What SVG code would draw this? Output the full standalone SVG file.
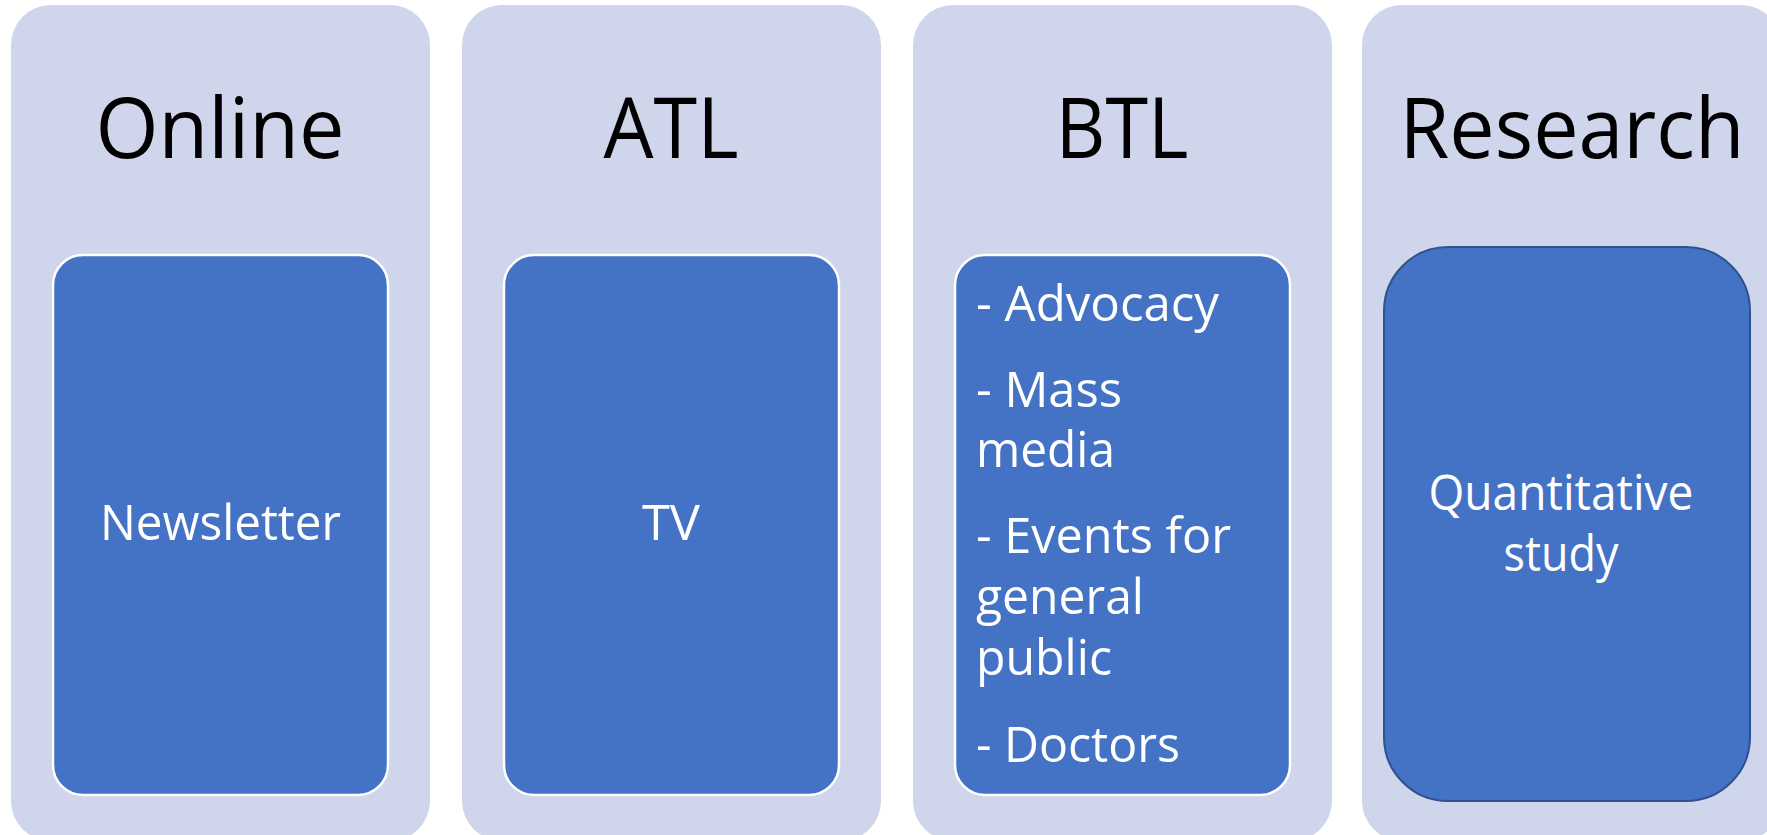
<svg xmlns="http://www.w3.org/2000/svg" width="1767" height="835" viewBox="0 0 1767 835">
<style>
.outer{fill:#CFD5EA;}
.inner{fill:#4472C4;stroke:#FFFFFF;stroke-width:2.5;}
.inner2{fill:#4472C4;stroke:#2F528F;stroke-width:2;}
.hdr{font-family:"Open Sans","Lato",sans-serif;font-size:84px;fill:#000000;text-anchor:middle;}
.lbl{font-family:"Open Sans","Lato",sans-serif;font-size:49px;fill:#FFFFFF;text-anchor:middle;}
.lst{font-family:"Open Sans","Lato",sans-serif;font-size:49px;fill:#FFFFFF;}
</style>
<rect width="1767" height="835" fill="#FFFFFF"/>
<g id="online">
<rect class="outer" x="11" y="5" width="419" height="836" rx="40"/>
<text class="hdr" x="220" y="158" textLength="249" lengthAdjust="spacingAndGlyphs">Online</text>
<rect class="inner" x="53" y="255" width="335" height="540" rx="30"/>
<text class="lbl" x="220.5" y="540" textLength="241" lengthAdjust="spacingAndGlyphs">Newsletter</text>
</g>
<g id="atl">
<rect class="outer" x="462" y="5" width="419" height="836" rx="40"/>
<text class="hdr" x="671" y="158" textLength="135" lengthAdjust="spacingAndGlyphs">ATL</text>
<rect class="inner" x="504" y="255" width="335" height="540" rx="30"/>
<text class="lbl" x="671" y="540" textLength="58" lengthAdjust="spacingAndGlyphs">TV</text>
</g>
<g id="btl">
<rect class="outer" x="913" y="5" width="419" height="836" rx="40"/>
<text class="hdr" x="1122" y="158" textLength="133" lengthAdjust="spacingAndGlyphs">BTL</text>
<rect class="inner" x="955" y="255" width="335" height="540" rx="30"/>
<text class="lst" x="976" y="321" textLength="243" lengthAdjust="spacingAndGlyphs">- Advocacy</text>
<text class="lst" x="976" y="407" textLength="146" lengthAdjust="spacingAndGlyphs">- Mass</text>
<text class="lst" x="976" y="467" textLength="139" lengthAdjust="spacingAndGlyphs">media</text>
<text class="lst" x="976" y="553" textLength="255" lengthAdjust="spacingAndGlyphs">- Events for</text>
<text class="lst" x="976" y="614" textLength="168" lengthAdjust="spacingAndGlyphs">general</text>
<text class="lst" x="976" y="675" textLength="136" lengthAdjust="spacingAndGlyphs">public</text>
<text class="lst" x="976" y="762" textLength="204" lengthAdjust="spacingAndGlyphs">- Doctors</text>
</g>
<g id="research">
<rect class="outer" x="1362" y="5" width="419" height="836" rx="40"/>
<text class="hdr" x="1572" y="158" textLength="345" lengthAdjust="spacingAndGlyphs">Research</text>
<rect class="inner2" x="1384" y="247" width="366" height="554" rx="64"/>
<text class="lbl" x="1561" y="510" textLength="265" lengthAdjust="spacingAndGlyphs">Quantitative</text>
<text class="lbl" x="1561" y="571" textLength="115" lengthAdjust="spacingAndGlyphs">study</text>
</g>
<g id="connectors"></g>
</svg>
